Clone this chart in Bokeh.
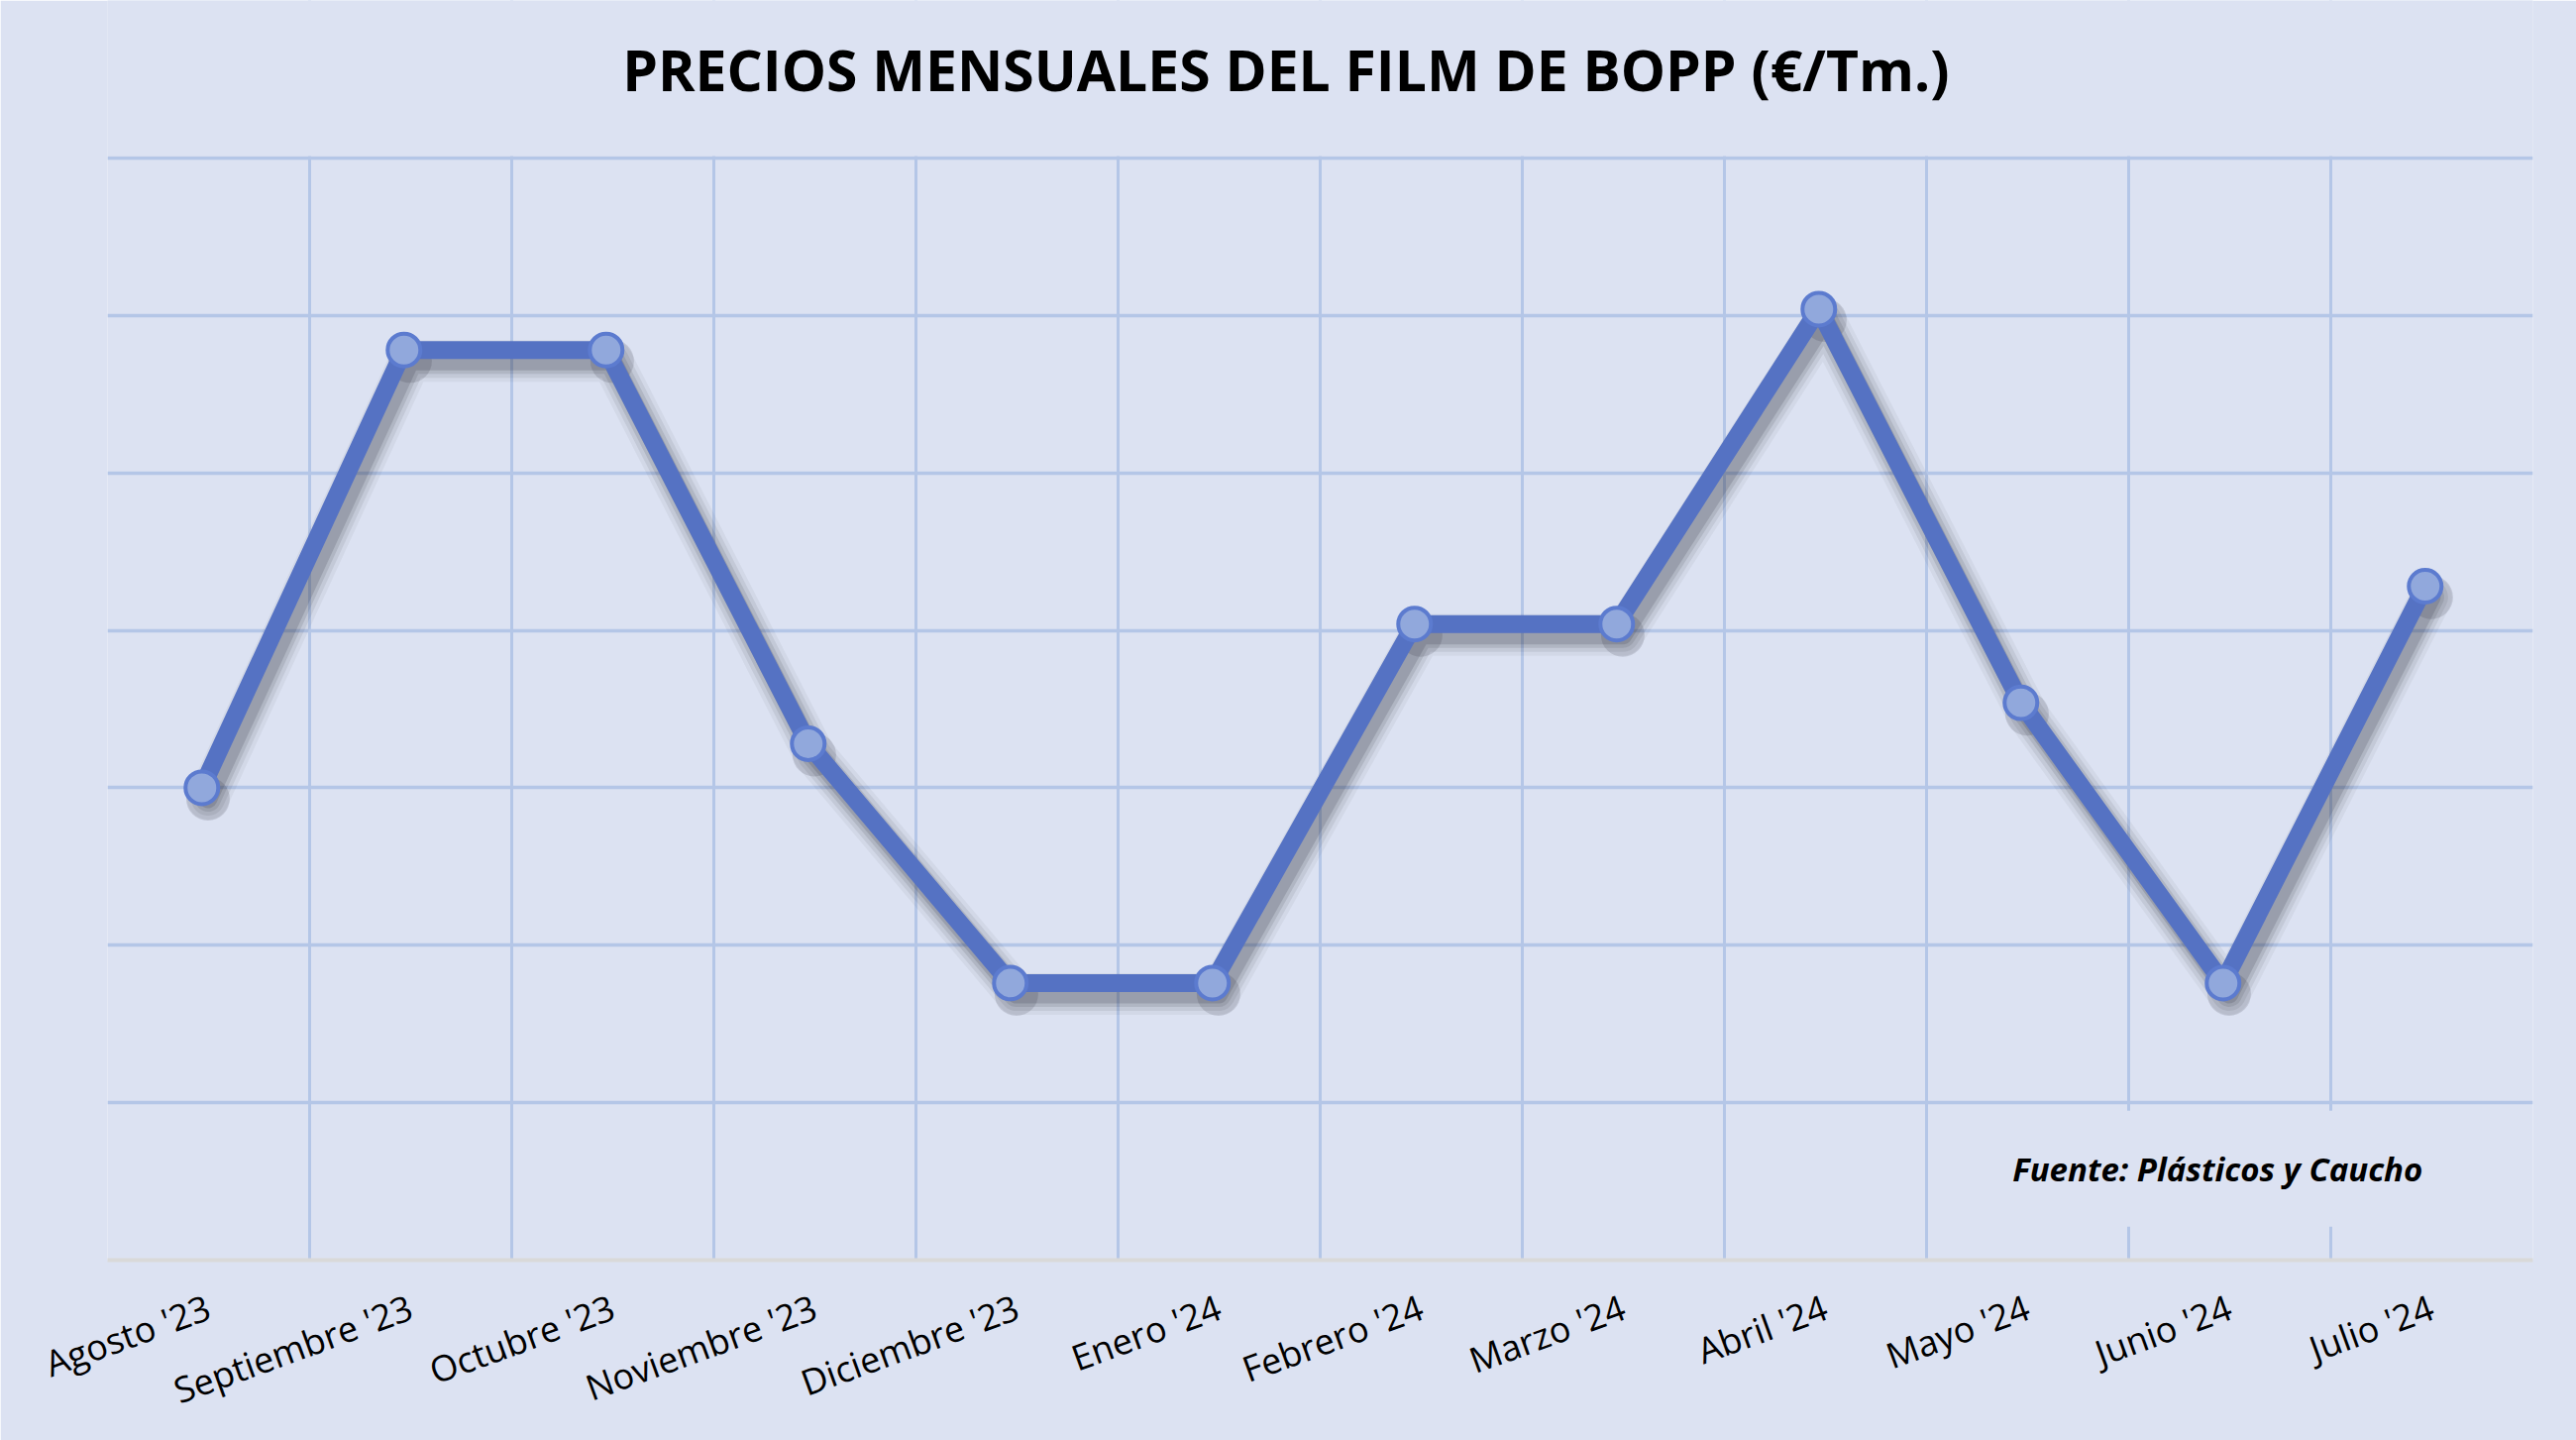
import math
from bokeh.plotting import figure
from bokeh.models import ColumnDataSource, Range1d, FixedTicker, Label, BoxAnnotation
from bokeh.transform import dodge
from bokeh.embed import file_html
from bokeh.resources import INLINE

# ---- data ----
categories = ["Agosto '23", "Septiembre '23", "Octubre '23", "Noviembre '23",
              "Diciembre '23", "Enero '24", "Febrero '24", "Marzo '24",
              "Abril '24", "Mayo '24", "Junio '24", "Julio '24"]
prices = [1650, 1789, 1789, 1664, 1588, 1588, 1702, 1702, 1802, 1677, 1588, 1714]
y_ticks = [1500, 1550, 1600, 1650, 1700, 1750, 1800, 1850]
title_text = "PRECIOS MENSUALES DEL FILM DE BOPP (€/Tm.)"
source_text = "Fuente: Plásticos y Caucho"

BG = "#DCE2F2"
GRID = "#B4C6E7"
LINE = "#5572C3"
MFILL = "#91A8DC"
MEDGE = "#5C7BCF"

n = len(categories)
xs = [i + 0.5 for i in range(n)]
src = ColumnDataSource(dict(x=xs, y=prices, cat=categories))

# frame extends to the top of the canvas; the area above the grid is masked
p = figure(width=2600, height=1453, output_backend="svg", toolbar_location=None,
           x_range=Range1d(0, n), y_range=Range1d(y_ticks[0], 1900),
           y_axis_location=None,
           min_border_left=108, min_border_right=44, min_border_top=0,
           min_border_bottom=172)
p.background_fill_color = BG
p.border_fill_color = BG
p.outline_line_color = None

# grids
p.ygrid.ticker = FixedTicker(ticks=y_ticks)
p.ygrid.grid_line_color = GRID
p.ygrid.grid_line_width = 3.5
p.xgrid.ticker = FixedTicker(ticks=list(range(n + 1)))
p.xgrid.grid_line_color = GRID
p.xgrid.grid_line_width = 3

# x axis
ax = p.xaxis[0]
ax.ticker = FixedTicker(ticks=xs)
ax.major_label_overrides = {x: c for x, c in zip(xs, categories)}
ax.major_label_orientation = math.radians(20)
ax.major_label_text_font = "Open Sans"
ax.major_label_text_font_size = "36px"
ax.major_label_text_color = "black"
ax.major_label_standoff = 40
ax.major_tick_line_color = None
ax.minor_tick_line_color = None
ax.axis_line_color = "#D9D9D9"
ax.axis_line_width = 4

XOFF = -0.033  # points sit slightly left of the category centre in the original

# shadow (soft, offset down-right)
for w, a in [(42, 0.05), (34, 0.08), (26, 0.11), (19, 0.15)]:
    p.line(x=dodge("x", XOFF + 0.03), y=dodge("y", -3.5), source=src, line_width=w,
           line_color="#1E1E28", line_alpha=a, line_join="round", line_cap="round")
p.scatter(x=dodge("x", XOFF + 0.03), y=dodge("y", -3.5), source=src, size=44,
          fill_color="#1E1E28", fill_alpha=0.14, line_color=None)

# main line + markers
p.line(x=dodge("x", XOFF), y="y", source=src, line_width=18, line_color=LINE,
       line_join="round")
p.scatter(x=dodge("x", XOFF), y="y", source=src, size=33, marker="circle",
          fill_color=MFILL, line_color=MEDGE, line_width=4)

# mask above the top grid line (title area)
p.add_layout(BoxAnnotation(bottom=y_ticks[-1] + 0.6, fill_color=BG, fill_alpha=1.0,
                           line_color=None))

# title
p.add_layout(Label(x=5.83, y=1878, text=title_text, text_font="Open Sans",
                   text_font_style="bold", text_font_size="57px", text_color="black",
                   text_align="center", text_baseline="alphabetic"))

# source note with background box hiding grid lines
p.add_layout(Label(x=10.44, y=1529, text=source_text, text_font="Open Sans",
                   text_font_style="bold italic", text_font_size="33px",
                   text_color="black", text_align="center", text_baseline="middle",
                   background_fill_color=BG, padding=36))

open("out.html", "w").write(file_html(p, INLINE))
